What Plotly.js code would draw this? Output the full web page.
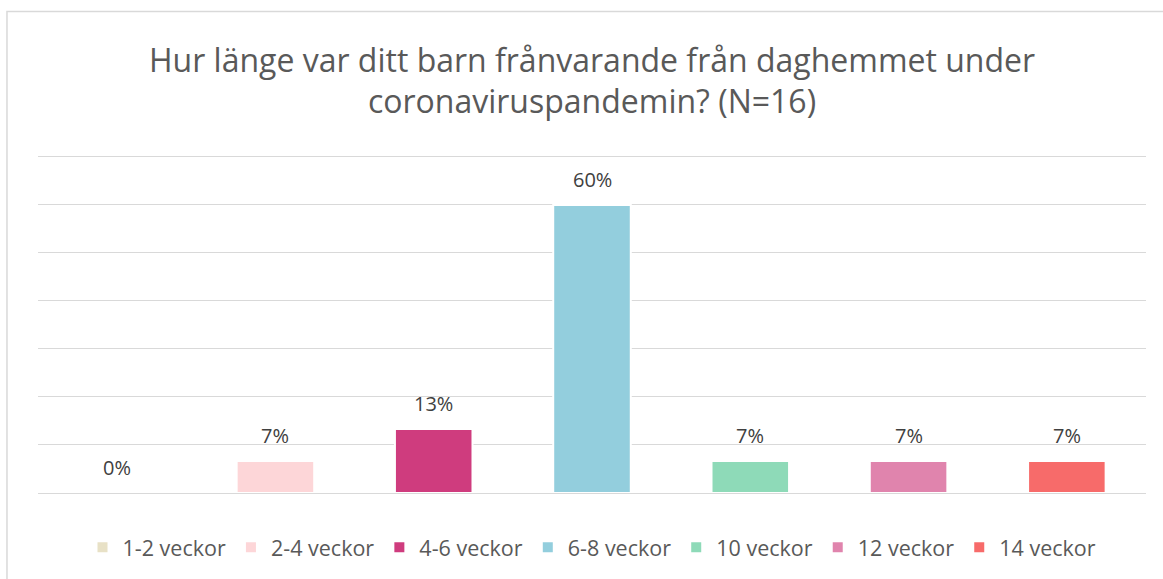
<!DOCTYPE html>
<html>
<head>
<meta charset="utf-8">
<script src="https://cdn.plot.ly/plotly-3.0.1.min.js"></script>
<style>
  html, body { margin: 0; padding: 0; background: #ffffff; }
  #chart { width: 1163px; height: 579px; }
</style>
</head>
<body>
<div id="chart"></div>
<script>
// Data
const categories = ["1-2 veckor", "2-4 veckor", "4-6 veckor", "6-8 veckor", "10 veckor", "12 veckor", "14 veckor"];
const shares = [0.0, 0.0667, 0.1333, 0.60, 0.0667, 0.0667, 0.0667];
const colors = ["#E8E1C6", "#FDD6D8", "#CF3C7E", "#93CEDD", "#8EDAB8", "#E084AD", "#F76B6A"];
const titleText = "Hur länge var ditt barn frånvarande från daghemmet under<br>coronaviruspandemin? (N=16)";

const traces = categories.map((c, i) => ({
  type: "bar",
  name: c,
  x: [c],
  y: [shares[i]],
  width: 0.49,
  marker: { color: colors[i], line: { color: "#ffffff", width: 2 } },
  hoverinfo: "skip"
}));

// value labels placed through the axes
const labels = categories.map((c, i) => ({
  x: c,
  y: shares[i],
  xref: "x",
  yref: "y",
  text: Math.round(shares[i] * 100) + "%",
  showarrow: false,
  yanchor: "bottom",
  yshift: 10,
  font: { family: "Open Sans", size: 20, color: "#404040" }
}));

const layout = {
  width: 1163,
  height: 579,
  paper_bgcolor: "#ffffff",
  plot_bgcolor: "#ffffff",
  margin: { l: 38, r: 17, t: 154, b: 85 },
  barmode: "overlay",
  showlegend: true,
  title: {
    text: titleText,
    font: { family: "Open Sans", size: 32, color: "#595959" },
    x: 0.5,
    xanchor: "center",
    xref: "paper",
    yref: "container",
    y: 0.876,
    yanchor: "middle"
  },
  xaxis: {
    type: "category",
    categoryorder: "array",
    categoryarray: categories,
    showticklabels: false,
    showgrid: false,
    zeroline: false,
    showline: false,
    ticks: ""
  },
  yaxis: {
    range: [0, 0.706],
    tickvals: [0, 0.1, 0.2, 0.3, 0.4, 0.5, 0.6, 0.7],
    showticklabels: false,
    showgrid: true,
    gridcolor: "#d9d9d9",
    gridwidth: 1,
    zeroline: true,
    zerolinecolor: "#d9d9d9",
    zerolinewidth: 1,
    showline: false,
    ticks: ""
  },
  legend: {
    orientation: "h",
    x: 0.5,
    xanchor: "center",
    y: -0.157,
    yanchor: "middle",
    font: { family: "Open Sans", size: 21.5, color: "#595959" },
    itemclick: false,
    traceorder: "normal"
  },
  annotations: labels,
  shapes: [{
    type: "rect",
    xref: "paper", yref: "paper",
    x0: -0.028, x1: 1.05, y0: -0.4, y1: 1.42,
    line: { color: "#d9d9d9", width: 1.5 },
    fillcolor: "rgba(0,0,0,0)",
    layer: "below"
  }]
};

Plotly.newPlot("chart", traces, layout, { displayModeBar: false, staticPlot: true });
</script>
</body>
</html>
